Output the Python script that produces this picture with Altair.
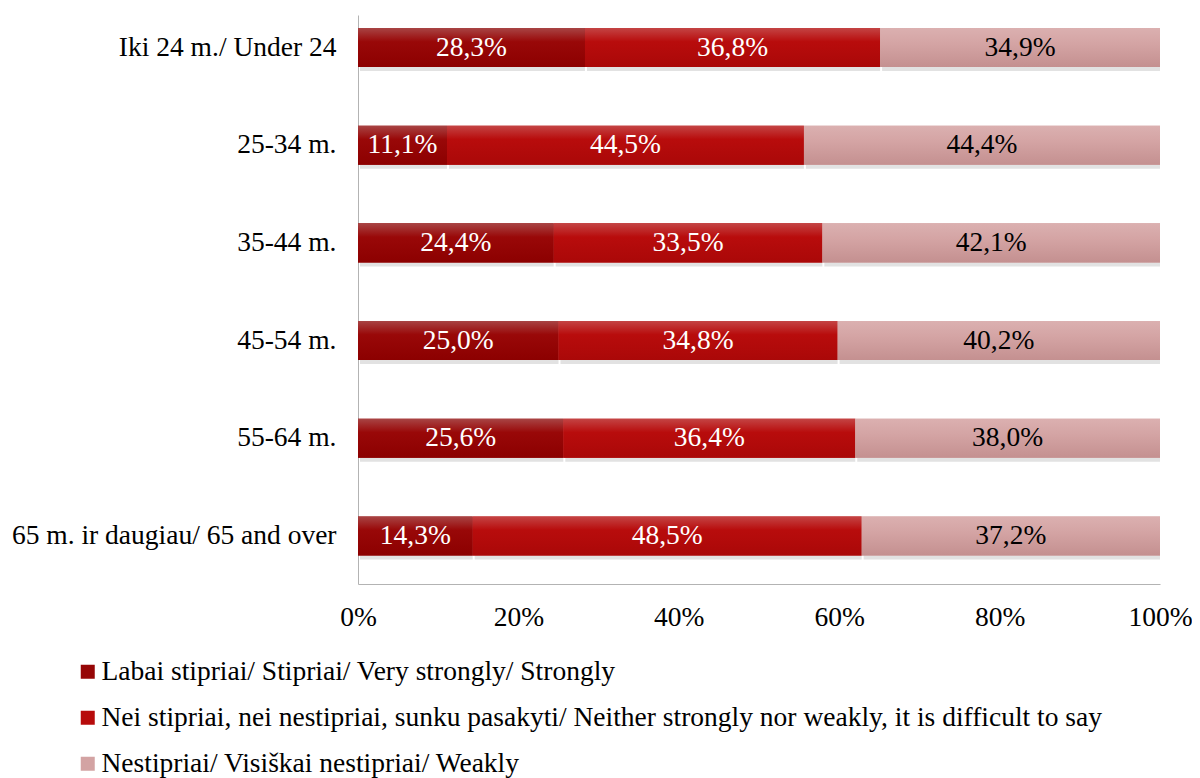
import altair as alt
import pandas as pd

groups = ["Iki 24 m./ Under 24", "25-34 m.", "35-44 m.", "45-54 m.", "55-64 m.",
          "65 m. ir daugiau/ 65 and over"]
series = ["Labai stipriai/ Stipriai/ Very strongly/ Strongly",
          "Nei stipriai, nei nestipriai, sunku pasakyti/ Neither strongly nor weakly, it is difficult to say",
          "Nestipriai/ Visiškai nestipriai/ Weakly"]
strong = [28.3, 11.1, 24.4, 25.0, 25.6, 14.3]
neutral = [36.8, 44.5, 33.5, 34.8, 36.4, 48.5]
weak = [34.9, 44.4, 42.1, 40.2, 38.0, 37.2]
colors = ["#960606", "#b70b0b", "#d3a3a3"]
grad_stops = [
    [("#a84444", 0.0), ("#990808", 0.35), ("#8c0000", 1.0)],
    [("#c44444", 0.0), ("#b80c0c", 0.35), ("#aa0808", 1.0)],
    [("#dbb0b0", 0.0), ("#d4a4a4", 0.4), ("#c49090", 1.0)],
]
text_colors = ["white", "white", "black"]

rows = []
for vals, s, k in zip([strong, neutral, weak], series, range(3)):
    for g, v in zip(groups, vals):
        rows.append({"group": g, "series": s, "value": v, "k": k, "tc": text_colors[k]})
df = pd.DataFrame(rows)

FONT = "Liberation Serif"
FS = 27.5

base = alt.Chart(df).transform_stack(
    stack="value", groupby=["group"], as_=["x0", "x1"],
    sort=[alt.SortField("k", order="ascending")]
).transform_calculate(
    mid="(datum.x0 + datum.x1) / 2",
    label="replace(format(datum.value, '.1f'), '.', ',') + '%'"
)

yscale = alt.Scale(paddingInner=0.6, paddingOuter=0.2125, align=0.313)
yenc = alt.Y("group:N", sort=groups, title=None, scale=yscale,
             axis=alt.Axis(ticks=False, labelPadding=22, labelFontSize=FS, labelFont=FONT,
                           labelColor="black", domainColor="#b3b3b3", labelLimit=0))
xenc = alt.X("x0:Q", scale=alt.Scale(domain=[0, 100], nice=False), title=None,
             axis=alt.Axis(values=[0, 20, 40, 60, 80, 100], labelExpr="datum.value + '%'",
                           ticks=False, grid=False, labelFontSize=FS, labelFont=FONT,
                           labelFlush=False, labelOverlap=False,
                           labelColor="black", domainColor="#b3b3b3", labelPadding=19))

shadow = base.mark_bar(color="#7a7a7a", opacity=0.22, yOffset=4, xOffset=2).encode(
    x=xenc, x2="x1:Q", y=yenc)

bars = base.mark_bar(stroke=None).encode(
    x=xenc,
    x2="x1:Q",
    y=yenc,
    color=alt.Color("series:N", sort=series,
                    scale=alt.Scale(domain=series, range=colors),
                    legend=alt.Legend(title=None, orient="none", legendX=-284, legendY=643,
                                      direction="vertical", symbolType="square", symbolSize=196,
                                      symbolStrokeWidth=0, labelFont=FONT, labelFontSize=FS,
                                      labelColor="black", labelLimit=0, rowPadding=17,
                                      labelOffset=0)),
)

grad_layers = []
for k in range(3):
    g = {"gradient": "linear", "x1": 0, "y1": 0, "x2": 0, "y2": 1,
         "stops": [{"color": c, "offset": o} for c, o in grad_stops[k]]}
    grad_layers.append(
        base.transform_filter(alt.datum.k == k).mark_bar(color=g).encode(
            x=xenc, x2="x1:Q", y=yenc)
    )

texts = base.mark_text(font=FONT, fontSize=FS, baseline="middle", align="center").encode(
    x="mid:Q",
    y=alt.Y("group:N", sort=groups),
    text="label:N",
    color=alt.Color("tc:N", scale=None),
)

chart = alt.layer(shadow, bars, *grad_layers, texts).properties(
    width=802, height=569,
    autosize=alt.AutoSizeParams(type="none"),
    padding={"left": 350, "top": 7, "right": 32, "bottom": 194},
).configure(background="white").configure_view(stroke=None)

chart.save("out.html", embed_options={"renderer": "svg", "actions": False})
